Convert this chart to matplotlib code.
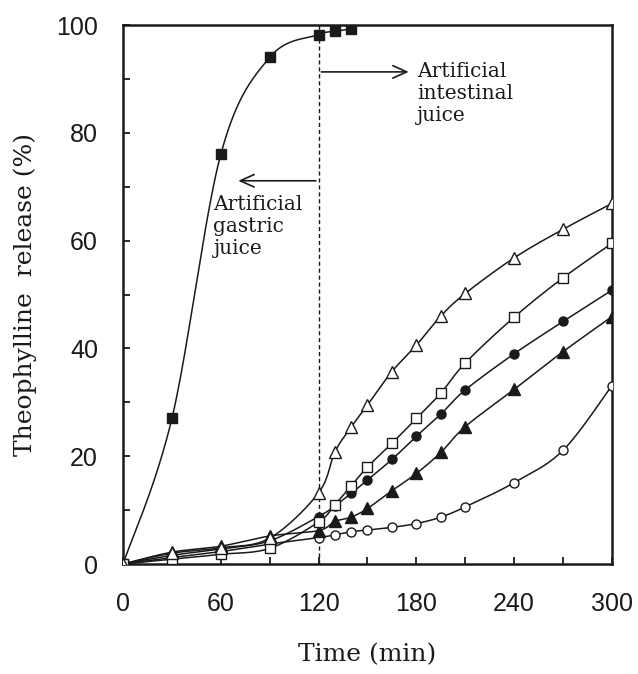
import numpy as np
import matplotlib
matplotlib.use("Agg")
import matplotlib.pyplot as plt
from matplotlib.ticker import MultipleLocator

# release profiles (time in min, release in %)
time_min = [0, 30, 60, 90, 120, 130, 140, 150, 165, 180, 195, 210, 240, 270, 300]
gastric_time = [0, 30, 60, 90, 120, 130, 140]
gastric_release = [0, 27.0, 76.0, 94.0, 98.2, 98.8, 99.3]

open_triangle = [0, 2.0, 3.0, 4.8, 13.2, 20.8, 25.4, 29.5, 35.7, 40.6, 46.0, 50.2, 56.8, 62.1, 66.9]
open_square = [0, 0.9, 1.8, 2.9, 7.8, 11.0, 14.5, 18.0, 22.4, 27.0, 31.7, 37.3, 45.8, 53.1, 59.5]
filled_circle = [0, 1.6, 2.8, 4.3, 8.8, 10.8, 13.1, 15.6, 19.4, 23.7, 27.8, 32.3, 39.0, 45.0, 50.8]
filled_triangle = [0, 2.2, 3.3, 5.2, 6.2, 7.9, 8.7, 10.3, 13.6, 16.8, 20.7, 25.5, 32.4, 39.4, 45.9]
open_circle = [0, 1.2, 2.3, 3.7, 4.9, 5.4, 6.0, 6.3, 6.8, 7.5, 8.7, 10.6, 15.1, 21.1, 33.1]

SERIF = "DejaVu Serif"
SANS = "Liberation Sans"


def smooth_line(ax, x, y, n=40, **kw):
    # spreadsheet-style smoothed line: cubic bezier through the points,
    # control points taken in display space
    pts = ax.transData.transform(np.column_stack([x, y]))
    ext = np.vstack([pts[0], pts, pts[-1]])
    out = []
    s = np.linspace(0, 1, n)[:, None]
    for i in range(len(pts) - 1):
        p0, p1 = ext[i + 1], ext[i + 2]
        c1 = p0 + (ext[i + 2] - ext[i]) / 6.0
        c2 = p1 - (ext[i + 3] - ext[i + 1]) / 6.0
        seg = ((1 - s) ** 3) * p0 + 3 * ((1 - s) ** 2) * s * c1 + 3 * (1 - s) * s ** 2 * c2 + s ** 3 * p1
        out.append(seg if i == 0 else seg[1:])
    out = ax.transData.inverted().transform(np.vstack(out))
    ax.plot(out[:, 0], out[:, 1], **kw)


fig = plt.figure(figsize=(6.38, 6.74), dpi=100)
ax = fig.add_axes([0.1928, 0.1632, 0.9592 - 0.1928, 0.9629 - 0.1632])
ax.set_xlim(0, 300)
ax.set_ylim(0, 100)

line_kw = dict(color="#1a1a1a", lw=1.1, zorder=2)
smooth_line(ax, gastric_time, gastric_release, **line_kw)
for vals in [open_triangle, open_square, filled_circle, filled_triangle, open_circle]:
    smooth_line(ax, time_min, vals, **line_kw)

mk = dict(ls="none", mec="#1a1a1a", mew=1.0, zorder=3)
ax.plot(gastric_time, gastric_release, marker="s", ms=6.5, mfc="#1a1a1a", **mk)
ax.plot(time_min, open_circle, marker="o", ms=6.5, mfc="white", **mk)
ax.plot(time_min, filled_triangle, marker="^", ms=8, mfc="#1a1a1a", **mk)
ax.plot(time_min, filled_circle, marker="o", ms=6.5, mfc="#1a1a1a", **mk)
ax.plot(time_min, open_square, marker="s", ms=6.5, mfc="white", **mk)
ax.plot(time_min, open_triangle, marker="^", ms=8, mfc="white", **mk)

# medium change at 120 min
ax.plot([120, 120], [0, 100], color="#1a1a1a", lw=1.0, ls=(0, (3, 2)), zorder=1)
arrow = dict(arrowstyle="->,head_length=1.0,head_width=0.45", color="#1a1a1a", lw=1.2)
ax.annotate("", xy=(177, 91.3), xytext=(120, 91.3), arrowprops=arrow)
ax.annotate("", xy=(69, 71.1), xytext=(120, 71.1), arrowprops=arrow)

ax.text(55.5, 68.5, "Artificial\ngastric\njuice", family=SERIF, fontsize=14.5,
        va="top", ha="left", linespacing=1.2, color="#1a1a1a")
ax.text(180.5, 93.2, "Artificial\nintestinal\njuice", family=SERIF, fontsize=14.5,
        va="top", ha="left", linespacing=1.2, color="#1a1a1a")

ax.xaxis.set_major_locator(MultipleLocator(60))
ax.xaxis.set_minor_locator(MultipleLocator(30))
ax.yaxis.set_major_locator(MultipleLocator(20))
ax.yaxis.set_minor_locator(MultipleLocator(10))
ax.tick_params(which="both", direction="in", length=5, width=1.3, color="#1a1a1a",
               top=False, right=False)
ax.tick_params(axis="x", which="major", pad=20)
ax.tick_params(axis="y", which="major", pad=18)
for lab in ax.get_xticklabels() + ax.get_yticklabels():
    lab.set_fontfamily(SANS)
    lab.set_fontsize(18)
    lab.set_color("#1a1a1a")

for sp in ax.spines.values():
    sp.set_linewidth(1.8)
    sp.set_color("#1a1a1a")

ax.set_xlabel("Time (min)", family=SERIF, fontsize=18, color="#1a1a1a", labelpad=20)
ax.set_ylabel("Theophylline  release (%)", family=SERIF, fontsize=18, color="#1a1a1a", labelpad=14)

fig.savefig("out.png", dpi=100)
